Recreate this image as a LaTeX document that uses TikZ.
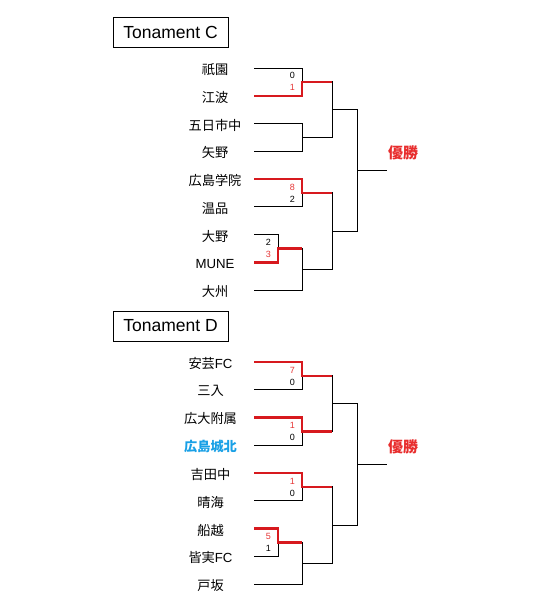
\documentclass[tikz,border=0pt]{standalone}
\usepackage{fontspec}
\setmainfont{Liberation Sans}
\newfontfamily\cjk{Noto Sans CJK JP}
\definecolor{winred}{RGB}{215,25,30}
\definecolor{numred}{RGB}{230,55,55}
\definecolor{titlered}{RGB}{232,45,45}
\definecolor{jouhoku}{RGB}{25,160,230}
\tikzset{
  team/.style={inner sep=0pt,yshift=-1.5pt,font=\fontsize{13.2}{15}\selectfont},
  score/.style={inner sep=0pt,anchor=east,font=\fontsize{9}{10}\selectfont},
  wscore/.style={score,text=numred},
  titlebox/.style={draw,line width=0.9pt,minimum width=115pt,minimum height=30pt,inner sep=0pt,font=\fontsize{17.5}{20}\selectfont},
  champ/.style={inner sep=0pt,text=titlered,font=\cjk\bfseries\fontsize{15}{17}\selectfont},
  br/.style={line width=0.9pt,black},
  win/.style={line width=2.5pt,winred},
}
\begin{document}
\begin{tikzpicture}[x=1pt,y=-1pt]
\useasboundingbox[fill=white] (0,0) rectangle (540,610);

% ---------------- Tournament C ----------------
\node[titlebox] (ctitle) at (170.5,32) {Tonament C};
\node[team] (c1) at (215,68)     {\cjk 祇園};
\node[team] (c2) at (215,95.75)  {\cjk 江波};
\node[team] (c3) at (215,123.5)  {\cjk 五日市中};
\node[team] (c4) at (215,151.25) {\cjk 矢野};
\node[team] (c5) at (215,179)    {\cjk 広島学院};
\node[team] (c6) at (215,206.75) {\cjk 温品};
\node[team] (c7) at (215,234.5)  {\cjk 大野};
\node[team] (c8) at (215,262.25) {MUNE};
\node[team] (c9) at (215,290)    {\cjk 大州};
\foreach \i/\y in {1/68,2/95.75,3/123.5,4/151.25,5/179,6/206.75,7/234.5,8/262.25,9/290}
  \coordinate (c\i s) at (254,\y);
\coordinate (cA) at (302,81.9);
\coordinate (cB) at (302,137.4);
\coordinate (cC) at (302,192.9);
\coordinate (cD) at (278,248.4);
\coordinate (cE) at (302,269.2);
\coordinate (cF) at (332,109.6);
\coordinate (cG) at (332,231);
\coordinate (cH) at (357,170.3);
\coordinate (cW) at (387,170.3);
\draw[br] (c1s) -| (cA) (c2s) -| (cA);
\draw[br] (c3s) -| (cB) (c4s) -| (cB);
\draw[br] (c5s) -| (cC) (c6s) -| (cC);
\draw[br] (c7s) -| (cD) (c8s) -| (cD);
\draw[br] (cD) -| (cE) (c9s) -| (cE);
\draw[br] (cA) -| (cF) (cB) -| (cF);
\draw[br] (cC) -| (cG) (cE) -| (cG);
\draw[br] (cF) -| (cH) (cG) -| (cH);
\draw[br] (cH) -- (cW);
\draw[win] (c2s) -| (cA) -- (cA -| cF);
\draw[win] (c5s) -| (cC) -- (cC -| cG);
\draw[win] (c8s) -| (cD) -- (cD -| cE);
\node[score]  (cA1) at ([xshift=-7pt,yshift=6pt]cA) {0};
\node[wscore] (cA2) at ([xshift=-7pt,yshift=-6pt]cA) {1};
\node[wscore] (cC1) at ([xshift=-7pt,yshift=6pt]cC) {8};
\node[score]  (cC2) at ([xshift=-7pt,yshift=-6pt]cC) {2};
\node[score]  (cD1) at ([xshift=-7pt,yshift=6pt]cD) {2};
\node[wscore] (cD2) at ([xshift=-7pt,yshift=-6pt]cD) {3};
\node[champ] (cchamp) at (403,153) {優勝};

% ---------------- Tournament D ----------------
\begin{scope}[yshift=-294pt]
\node[titlebox] (dtitle) at (170.5,32) {Tonament D};
\node[team] (d1) at (210.5,68)     {{\cjk 安芸}FC};
\node[team] (d2) at (210.5,95.75)  {\cjk 三入};
\node[team] (d3) at (210.5,123.5)  {\cjk 広大附属};
\node[team,text=jouhoku] (d4) at (210.5,151.25) {\cjk\bfseries 広島城北};
\node[team] (d5) at (210.5,179)    {\cjk 吉田中};
\node[team] (d6) at (210.5,206.75) {\cjk 晴海};
\node[team] (d7) at (210.5,234.5)  {\cjk 船越};
\node[team] (d8) at (210.5,262.25) {{\cjk 皆実}FC};
\node[team] (d9) at (210.5,290)    {\cjk 戸坂};
\foreach \i/\y in {1/68,2/95.75,3/123.5,4/151.25,5/179,6/206.75,7/234.5,8/262.25,9/290}
  \coordinate (d\i s) at (254,\y);
\coordinate (dA) at (302,81.9);
\coordinate (dB) at (302,137.4);
\coordinate (dC) at (302,192.9);
\coordinate (dD) at (278,248.4);
\coordinate (dE) at (302,269.2);
\coordinate (dF) at (332,109.6);
\coordinate (dG) at (332,231);
\coordinate (dH) at (357,170.3);
\coordinate (dW) at (387,170.3);
\draw[br] (d1s) -| (dA) (d2s) -| (dA);
\draw[br] (d3s) -| (dB) (d4s) -| (dB);
\draw[br] (d5s) -| (dC) (d6s) -| (dC);
\draw[br] (d7s) -| (dD) (d8s) -| (dD);
\draw[br] (dD) -| (dE) (d9s) -| (dE);
\draw[br] (dA) -| (dF) (dB) -| (dF);
\draw[br] (dC) -| (dG) (dE) -| (dG);
\draw[br] (dF) -| (dH) (dG) -| (dH);
\draw[br] (dH) -- (dW);
\draw[win] (d1s) -| (dA) -- (dA -| dF);
\draw[win] (d3s) -| (dB) -- (dB -| dF);
\draw[win] (d5s) -| (dC) -- (dC -| dG);
\draw[win] (d7s) -| (dD) -- (dD -| dE);
\node[wscore] (dA1) at ([xshift=-7pt,yshift=6pt]dA) {7};
\node[score]  (dA2) at ([xshift=-7pt,yshift=-6pt]dA) {0};
\node[wscore] (dB1) at ([xshift=-7pt,yshift=6pt]dB) {1};
\node[score]  (dB2) at ([xshift=-7pt,yshift=-6pt]dB) {0};
\node[wscore] (dC1) at ([xshift=-7pt,yshift=6pt]dC) {1};
\node[score]  (dC2) at ([xshift=-7pt,yshift=-6pt]dC) {0};
\node[wscore] (dD1) at ([xshift=-7pt,yshift=6pt]dD) {5};
\node[score]  (dD2) at ([xshift=-7pt,yshift=-6pt]dD) {1};
\node[champ] (dchamp) at (403,153) {優勝};
\end{scope}
\end{tikzpicture}
\end{document}
